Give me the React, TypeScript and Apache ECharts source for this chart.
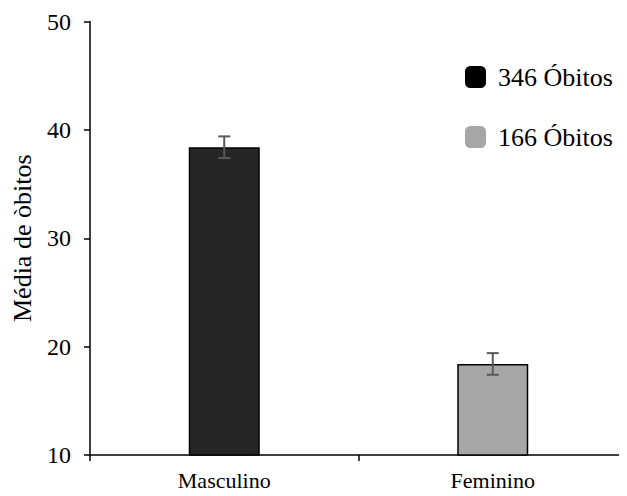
import React, { useEffect, useRef } from "react";
import * as echarts from "echarts";

const categories = ["Masculino", "Feminino"];
const seriesNames = ["346 Óbitos", "166 Óbitos"];
const means = [38.4, 18.4];
const errors = [1.0, 1.0];
const yTicks = { min: 10, max: 50, interval: 10 };

const FONT = "'Liberation Serif', 'Times New Roman', serif";

export default function App() {
  const ref = useRef<HTMLDivElement>(null);
  useEffect(() => {
    if (!ref.current) return;
    const chart = echarts.init(ref.current, undefined, { renderer: "svg" });
    const barColors = ["#262626", "#a6a6a6"];
    const legendColors = ["#000000", "#a6a6a6"];
    const barSeries = seriesNames.map((name, i) => ({
      name,
      type: "bar",
      barWidth: 71,
      barGap: "-100%",
      data: categories.map((_, j) => (j === i ? means[j] : null)),
      itemStyle: { color: barColors[i], borderColor: "#000", borderWidth: 1.5 },
    }));
    const errData = categories.map((_, j) => [j, means[j] - errors[j], means[j] + errors[j]]);
    chart.setOption({
      animation: false,
      grid: { left: 90, top: 21.5, bottom: 41, right: -10 },
      legend: {
        orient: "vertical",
        left: 460,
        top: 59,
        itemWidth: 21,
        itemHeight: 22,
        itemGap: 34,
        icon: "roundRect",
        textStyle: { fontSize: 26, fontFamily: FONT, color: "#000", padding: [0, 0, 0, 7] },
        data: seriesNames.map((n, i) => ({ name: n, itemStyle: { color: legendColors[i], borderWidth: 0 } })),
      },
      xAxis: {
        type: "category",
        data: categories,
        axisLine: { lineStyle: { color: "#000", width: 1.5 } },
        axisTick: { show: true, length: 6, lineStyle: { color: "#000", width: 1.5 } },
        axisLabel: { fontSize: 22, fontFamily: FONT, color: "#000", margin: 14 },
      },
      yAxis: {
        type: "value",
        min: yTicks.min,
        max: yTicks.max,
        interval: yTicks.interval,
        name: "Média de òbitos",
        nameLocation: "middle",
        nameGap: 55,
        nameTextStyle: { fontSize: 26, fontFamily: FONT, color: "#000" },
        axisLine: { show: true, lineStyle: { color: "#000", width: 1.5 } },
        axisTick: { show: true, length: 6, lineStyle: { color: "#000", width: 1.5 } },
        axisLabel: { fontSize: 24, fontFamily: FONT, color: "#000", margin: 19 },
        splitLine: { show: false },
      },
      series: [
        ...barSeries,
        {
          type: "custom",
          name: "err",
          data: errData,
          z: 10,
          renderItem: (params: any, api: any) => {
            const x = api.value(0);
            const lo = api.coord([x, api.value(1)]);
            const hi = api.coord([x, api.value(2)]);
            const w = 6;
            const style = { stroke: "#595959", lineWidth: 2 };
            return {
              type: "group",
              children: [
                { type: "line", shape: { x1: lo[0], y1: lo[1], x2: hi[0], y2: hi[1] }, style },
                { type: "line", shape: { x1: lo[0] - w, y1: lo[1], x2: lo[0] + w, y2: lo[1] }, style },
                { type: "line", shape: { x1: hi[0] - w, y1: hi[1], x2: hi[0] + w, y2: hi[1] }, style },
              ],
            };
          },
        },
      ],
    });
    return () => chart.dispose();
  }, []);
  return <div ref={ref} style={{ width: 627, height: 496, margin: -8 }} />;
}
